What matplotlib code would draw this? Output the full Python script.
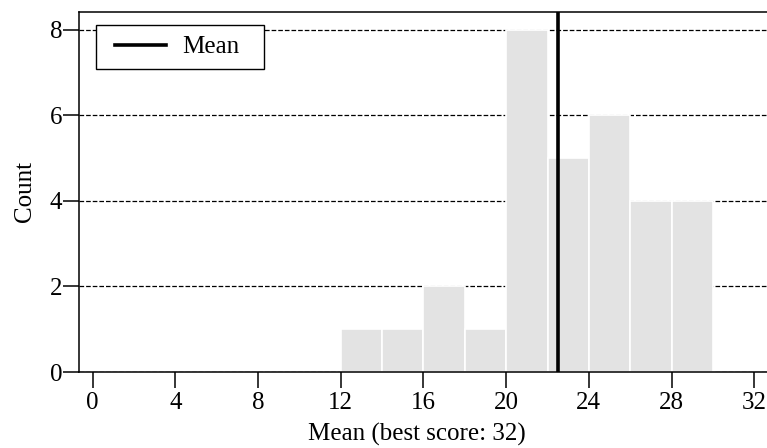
import matplotlib
matplotlib.use("Agg")
import matplotlib.pyplot as plt
from matplotlib.legend_handler import HandlerLine2D

# Histogram of mean scores (bin width 2)
bin_edges = [12, 14, 16, 18, 20, 22, 24, 26, 28, 30]
counts = [1, 1, 2, 1, 8, 5, 6, 4, 4]
mean_score = 22.5
best_score = 32
x_ticks = [0, 4, 8, 12, 16, 20, 24, 28, 32]
y_ticks = [0, 2, 4, 6, 8]

plt.rcParams['font.family'] = ['Liberation Serif', 'DejaVu Serif']
plt.rcParams['font.size'] = 18

fig = plt.figure(figsize=(7.67, 4.48), dpi=100)
ax = fig.add_axes([79 / 767, 76 / 448, 688.5 / 767, 360 / 448])

ax.bar(bin_edges[:-1], counts, width=2, align='edge', color='#e3e3e3',
       edgecolor='white', linewidth=1.2, zorder=2)
ax.axvline(mean_score, color='black', linewidth=2.6, zorder=3, label='Mean')

ax.set_xlim(-0.66, 32.64)
ax.set_ylim(0, 8.41)
ax.set_xticks(x_ticks)
ax.set_yticks(y_ticks)
ax.yaxis.grid(True, linestyle='--', color='black', linewidth=0.9, zorder=0)
ax.set_axisbelow(True)

ax.tick_params(axis='both', direction='out', length=11.5, width=1.1)
ax.tick_params(axis='y', pad=0.5)
ax.tick_params(axis='x', pad=3)
ax.spines['right'].set_visible(False)
for s in ['left', 'top', 'bottom']:
    ax.spines[s].set_linewidth(1.1)

ax.set_xlabel(f"Mean (best score: {best_score})")
ax.set_ylabel("Count")
ax.xaxis.set_label_coords(0.491, -0.142)
ax.yaxis.set_label_coords(-0.062, 0.5)

# legend box: fixed width, handle drawn with some left padding
leg = ax.legend(loc='upper left', bbox_to_anchor=(0.0247, 0.964, 0.244, 0),
                mode='expand', fancybox=False, edgecolor='black',
                framealpha=1, borderaxespad=0, borderpad=0.44,
                handlelength=2.35, handletextpad=0.66,
                handler_map={plt.Line2D: HandlerLine2D(xpad=0.3)})
leg.get_frame().set_linewidth(1.0)

fig.savefig("out.png", dpi=100)
